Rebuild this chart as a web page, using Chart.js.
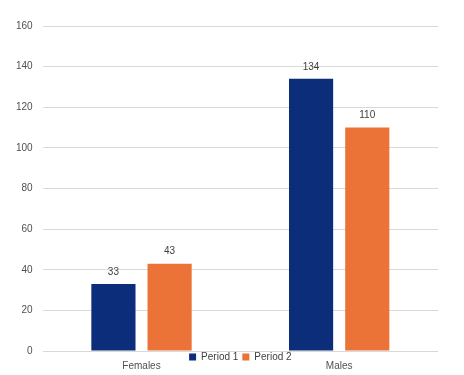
<!DOCTYPE html>
<html>
<head>
<meta charset="utf-8">
<script src="https://cdn.jsdelivr.net/npm/chart.js@4/dist/chart.umd.min.js"></script>
<style>
  html, body { margin: 0; padding: 0; background: #ffffff; }
  #wrap { width: 464px; height: 375px; }
</style>
</head>
<body>
<div id="wrap"><canvas id="c" width="464" height="375"></canvas></div>
<script>
const categories = ["Females", "Males"];
const seriesNames = ["Period 1", "Period 2"];
const period1 = [33, 134];
const period2 = [43, 110];
const yTicks = [0, 20, 40, 60, 80, 100, 120, 140, 160];

const colors = ["#0b2d7a", "#eb7338"];
const FONT = "'Liberation Sans', Arial, sans-serif";

const valueLabels = {
  id: 'valueLabels',
  afterDatasetsDraw(chart) {
    const ctx = chart.ctx;
    ctx.save();
    ctx.font = "10px " + FONT;
    ctx.fillStyle = "#404040";
    ctx.textAlign = "center";
    ctx.textBaseline = "middle";
    chart.data.datasets.forEach((ds, di) => {
      const meta = chart.getDatasetMeta(di);
      meta.data.forEach((el, i) => {
        ctx.fillText(String(ds.data[i]), el.x, el.y - 12);
      });
    });
    ctx.restore();
  }
};

const legendShift = {
  id: 'legendShift',
  afterUpdate(chart) {
    const lg = chart.legend;
    if (!lg) return;
    const h = lg.height;
    lg.top = chart.chartArea.bottom - 3;
    lg.bottom = lg.top + h;
    if (lg.adjustHitBoxes) lg.adjustHitBoxes();
  }
};

new Chart(document.getElementById('c'), {
  type: 'bar',
  data: {
    labels: categories,
    datasets: [
      { label: seriesNames[0], data: period1, backgroundColor: colors[0] },
      { label: seriesNames[1], data: period2, backgroundColor: colors[1] }
    ]
  },
  options: {
    responsive: false,
    animation: false,
    devicePixelRatio: 1,
    categoryPercentage: 0.5685,
    barPercentage: 0.786,
    layout: { padding: { top: 26, right: 26, left: 6, bottom: -30 } },
    plugins: {
      legend: {
        position: 'bottom',
        fullSize: false,
        labels: {
          boxWidth: 7,
          boxHeight: 7,
          padding: 4,
          color: '#404040',
          font: { size: 10, family: FONT }
        }
      },
      tooltip: { enabled: false }
    },
    scales: {
      x: {
        grid: { display: false, drawTicks: false },
        border: { display: false },
        ticks: { color: '#505050', padding: 9, font: { size: 10, family: FONT } }
      },
      y: {
        min: 0,
        max: 160,
        afterBuildTicks(axis) { axis.ticks = yTicks.map(v => ({ value: v })); },
        grid: { color: '#d9d9d9', lineWidth: 1, drawTicks: false },
        border: { display: false },
        ticks: { color: '#505050', padding: 10, font: { size: 10, family: FONT } }
      }
    }
  },
  plugins: [valueLabels, legendShift]
});
</script>
</body>
</html>
